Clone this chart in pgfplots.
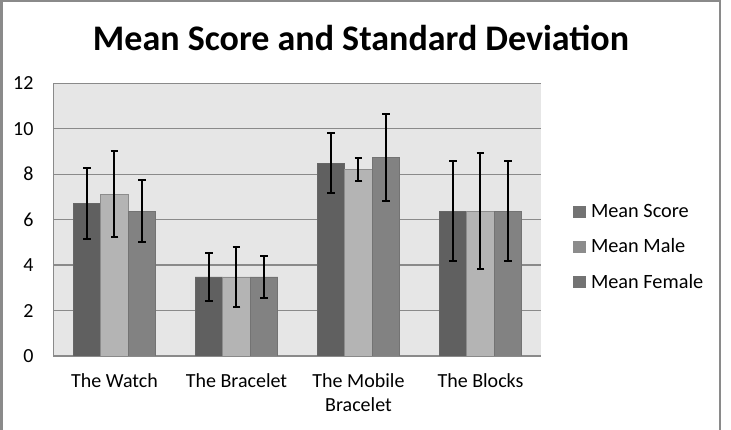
\documentclass[border=0pt]{standalone}
\usepackage{pgfplots}
\pgfplotsset{compat=1.18}
\usepackage{fontspec}
\setmainfont{Carlito}
\definecolor{cScore}{HTML}{606060}
\definecolor{cMale}{HTML}{B4B4B4}
\definecolor{cFemale}{HTML}{828282}
\definecolor{bgc}{HTML}{E6E6E6}
\definecolor{gridc}{HTML}{8A8A8A}
\begin{document}
\begin{tikzpicture}[x=1pt,y=1pt]
\path[use as bounding box] (0,0) rectangle (731,430);
\clip (0,0) rectangle (731,430);
\fill[white] (0,0) rectangle (731,430);
\draw[gridc, line width=2.5pt] (1.25,-10) -- (1.25,428.75) -- (720,428.75) -- (720,-10);
\node[font=\fontsize{36}{40}\selectfont\bfseries, inner sep=0pt] at (361,392.5) {Mean Score and Standard Deviation};
\begin{axis}[
  at={(53.5pt,74pt)}, anchor=south west,
  scale only axis, width=488pt, height=272.7pt,
  ybar=0pt, bar width=27.5pt,
  xmin=-0.5, xmax=3.5, ymin=0, ymax=12,
  ytick={0,2,...,12},
  xtick={0,1,2,3},
  xticklabels={The Watch, The Bracelet, {The Mobile\\Bracelet}, The Blocks},
  major tick length=0pt,
  xticklabel style={align=center, font=\fontsize{20}{24.5}\selectfont, yshift=-14pt},
  yticklabel style={font=\fontsize{20}{23}\selectfont, xshift=-16.5pt},
  /pgf/number format/assume math mode=true,
  axis background/.style={fill=bgc},
  ymajorgrids, grid style={gridc, line width=1.2pt},
  axis lines*=left,
  axis line style={gridc, line width=1.2pt},
  legend style={at={(1.065,0.40)}, anchor=west, draw=none, fill=none,
    font=\fontsize{20.3}{23}\selectfont, inner sep=0pt, row sep=20pt,
    nodes={inner sep=0pt}, /tikz/every odd column/.append style={column sep=5pt}},
  legend cell align=left,
  error bars/y dir=both, error bars/y explicit,
  error bars/error bar style={line width=2pt, black},
  error bars/error mark options={rotate=90, mark size=3.8pt, line width=2pt, black},
]
\addplot[fill=cScore, draw=black!60, line width=0.6pt,
  legend image code/.code={\fill[cScore] (0pt,-5.5pt) rectangle (12pt,5.5pt); \draw[black!55,line width=0.5pt] (0pt,-5.5pt) rectangle (12pt,5.5pt);}]
  coordinates {(0,6.72) +- (0,1.57) (1,3.48) +- (0,1.07) (2,8.48) +- (0,1.32) (3,6.38) +- (0,2.19)};
\addplot[fill=cMale, draw=black!45, line width=0.6pt,
  legend image code/.code={\fill[cMale] (0pt,-5.5pt) rectangle (12pt,5.5pt); \draw[black!45,line width=0.5pt] (0pt,-5.5pt) rectangle (12pt,5.5pt);}]
  coordinates {(0,7.12) +- (0,1.90) (1,3.48) +- (0,1.33) (2,8.21) +- (0,0.51) (3,6.38) +- (0,2.54)};
\addplot[fill=cFemale, draw=black!55, line width=0.6pt,
  legend image code/.code={\fill[cFemale] (0pt,-5.5pt) rectangle (12pt,5.5pt); \draw[black!55,line width=0.5pt] (0pt,-5.5pt) rectangle (12pt,5.5pt);}]
  coordinates {(0,6.38) +- (0,1.35) (1,3.48) +- (0,0.94) (2,8.74) +- (0,1.91) (3,6.38) +- (0,2.19)};
\legend{Mean Score, Mean Male, Mean Female}
\end{axis}
\end{tikzpicture}
\end{document}
